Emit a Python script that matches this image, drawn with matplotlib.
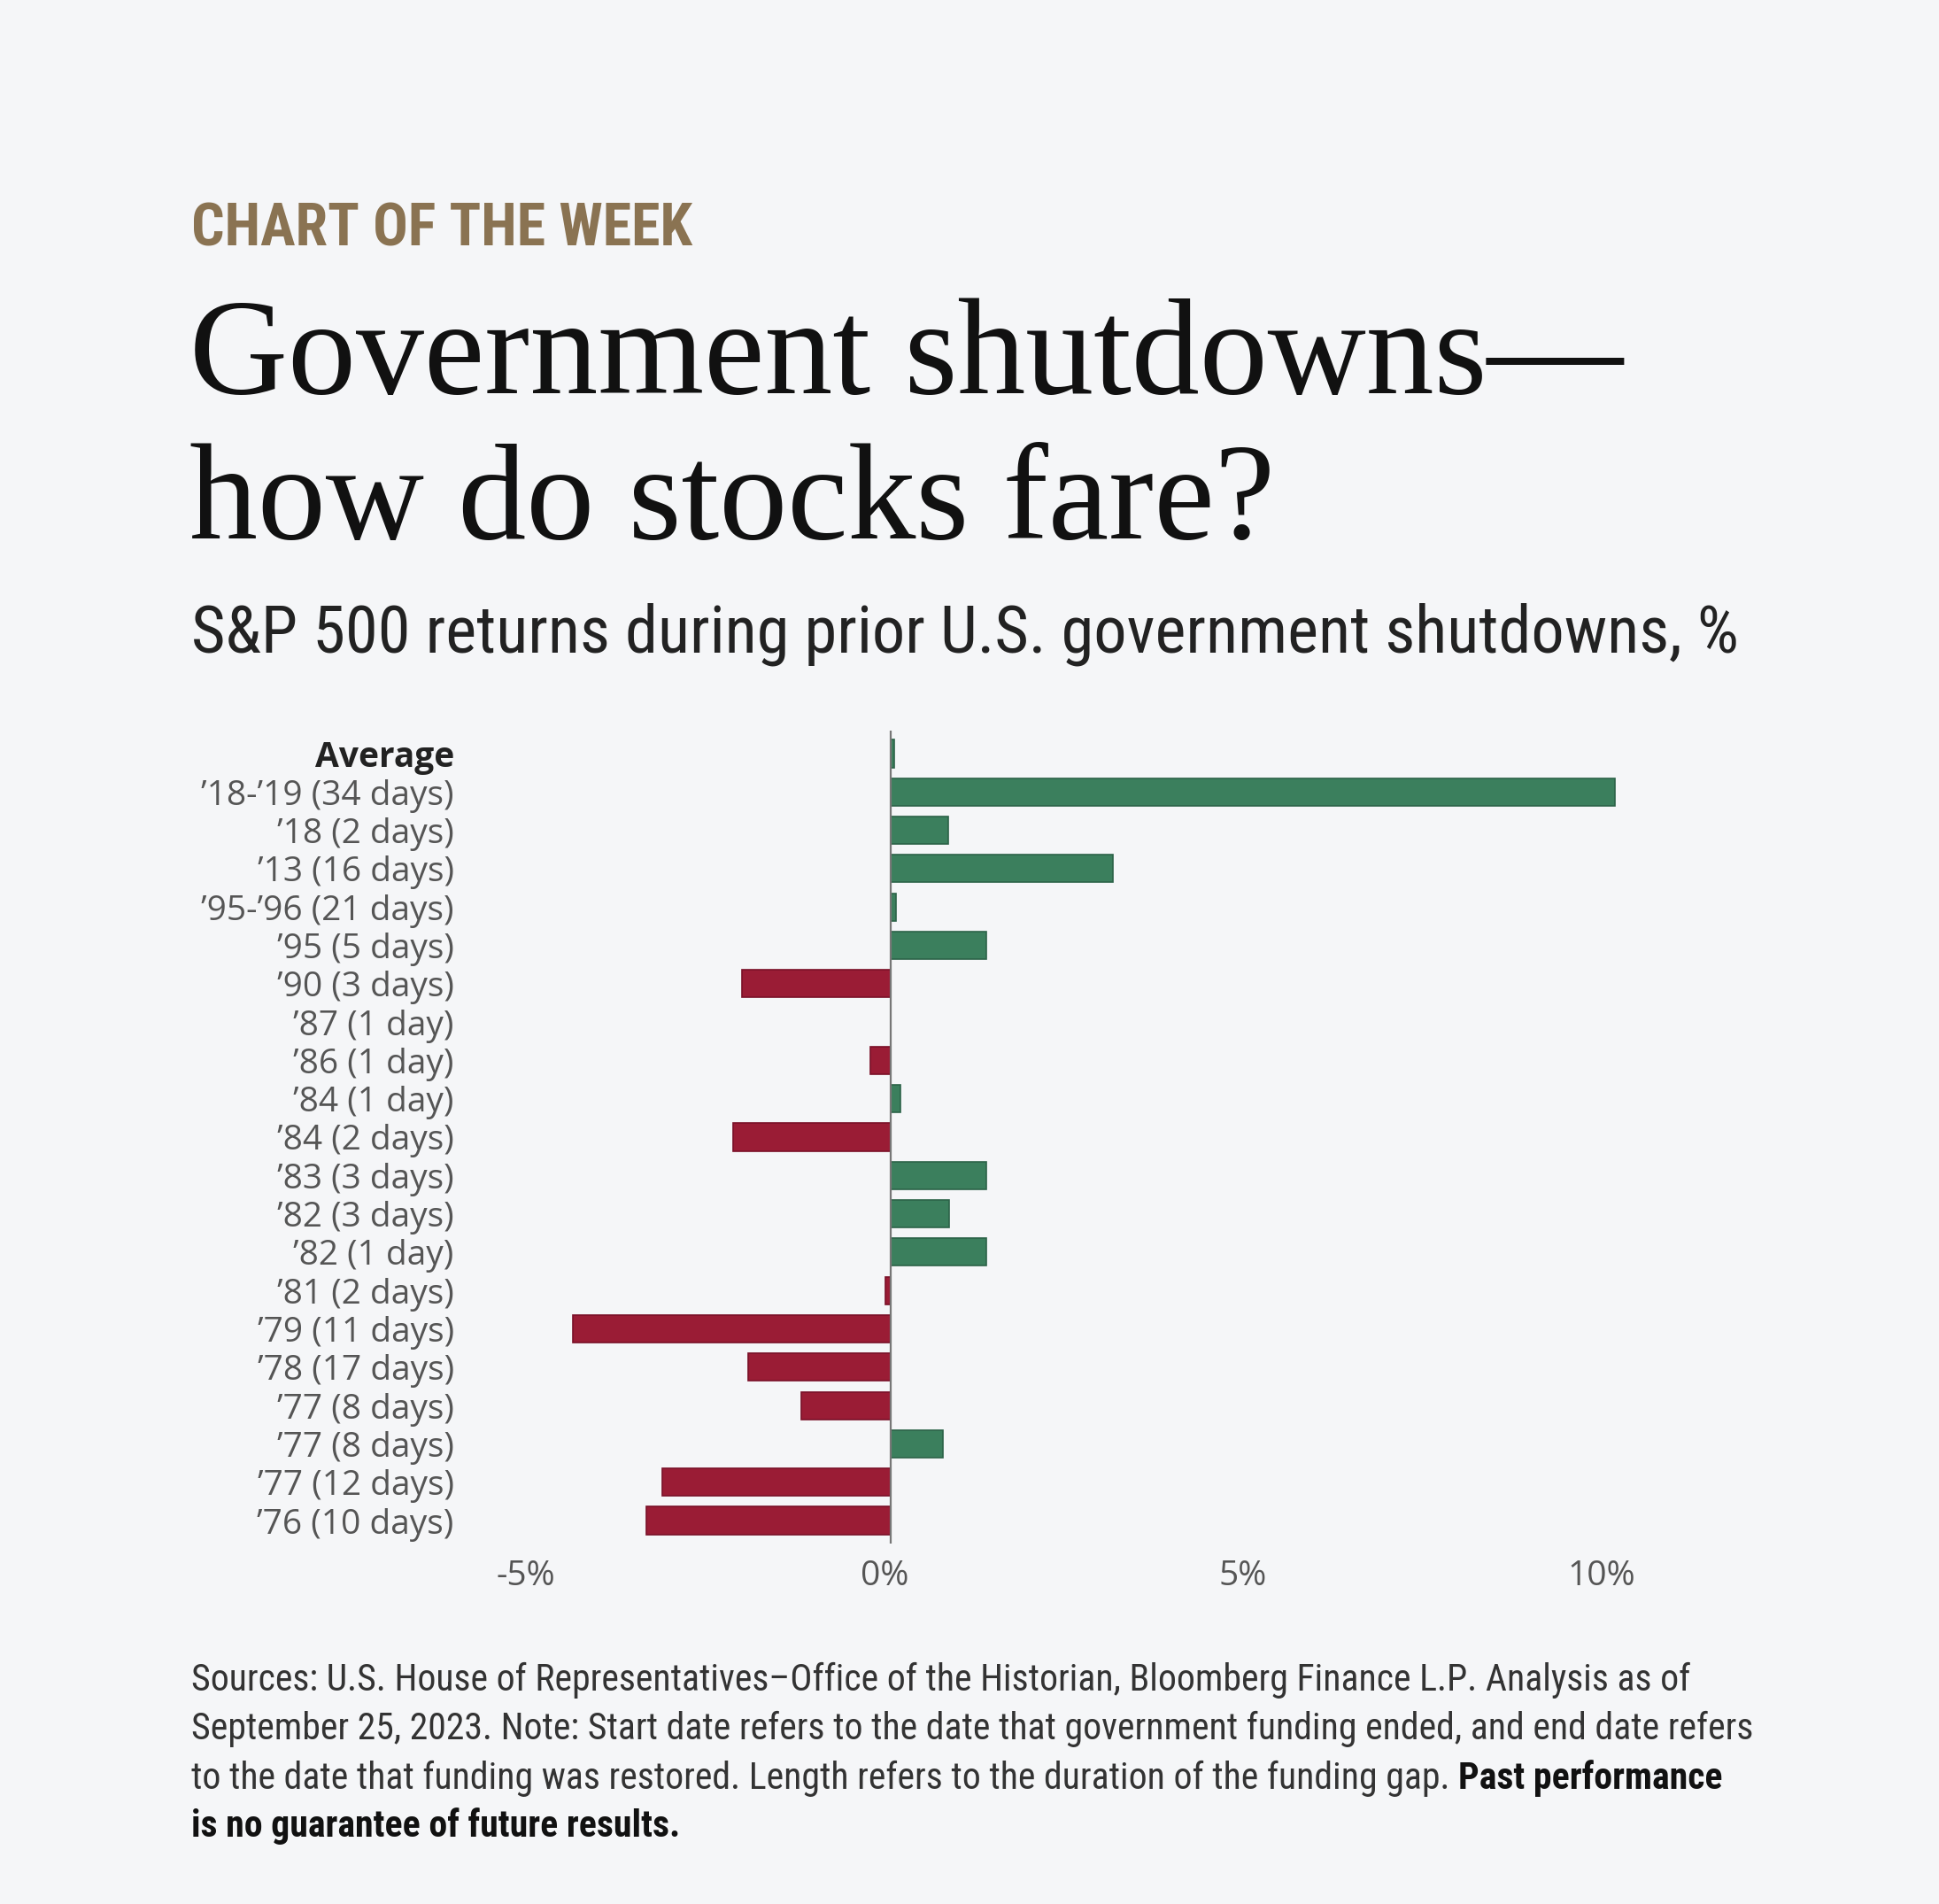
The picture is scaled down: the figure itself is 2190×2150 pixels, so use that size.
import matplotlib
matplotlib.use("Agg")
import matplotlib.pyplot as plt
from matplotlib import font_manager as fm
from matplotlib.transforms import ScaledTranslation

# data
labels = ["Average", "’18-’19 (34 days)", "’18 (2 days)", "’13 (16 days)",
          "’95-’96 (21 days)", "’95 (5 days)", "’90 (3 days)", "’87 (1 day)",
          "’86 (1 day)", "’84 (1 day)", "’84 (2 days)", "’83 (3 days)",
          "’82 (3 days)", "’82 (1 day)", "’81 (2 days)", "’79 (11 days)",
          "’78 (17 days)", "’77 (8 days)", "’77 (8 days)", "’77 (12 days)",
          "’76 (10 days)"]
returns = [0.05, 10.1, 0.8, 3.1, 0.07, 1.33, -2.07, 0.0, -0.28, 0.14, -2.2,
           1.33, 0.82, 1.33, -0.07, -4.43, -1.99, -1.25, 0.73, -3.19, -3.41]
xticks = [-5, 0, 5, 10]
xtick_labels = ["-5%", "0%", "5%", "10%"]

W, H = 2190, 2150
BG = "#f5f6f8"
GREEN = "#3b7f5d"
RED = "#9a1c35"


def pick(cands):
    for c in cands:
        try:
            fm.findfont(fm.FontProperties(family=c), fallback_to_default=False)
            return c
        except ValueError:
            pass
    return "DejaVu Sans"


NARROW = pick(["Roboto Condensed", "Fira Sans Condensed", "PT Sans Narrow",
               "Open Sans Condensed", "Liberation Sans Narrow", "Open Sans"])
SANS = pick(["Open Sans", "Noto Sans", "DejaVu Sans"])
SERIF = pick(["Liberation Serif", "DejaVu Serif"])

fig = plt.figure(figsize=(W / 100, H / 100), dpi=100, facecolor=BG)
r = fig.canvas.get_renderer()


def fx(px):
    return px / W


def fy(py):
    return 1 - py / H


def fit(t, target):
    # scale font so the text spans target pixels
    w = t.get_window_extent(renderer=r).width
    t.set_fontsize(t.get_fontsize() * target / w)
    return t.get_fontsize()


# header
t = fig.text(fx(216), fy(277), "CHART OF THE WEEK", fontsize=40, fontweight="bold",
             color="#8a7352", family=NARROW, va="baseline")
fit(t, 566)
t1 = fig.text(fx(214), fy(444), "Government shutdowns—", fontsize=112,
              family=SERIF, color="#111111", va="baseline")
ts = fit(t1, 1620)
fig.text(fx(214), fy(608), "how do stocks fare?", fontsize=ts,
         family=SERIF, color="#111111", va="baseline")
t = fig.text(fx(216), fy(737), "S&P 500 returns during prior U.S. government shutdowns, %",
             fontsize=54, family=NARROW, color="#222222", va="baseline")
fit(t, 1749)

# bar chart
x0, x1 = -5.3, 10.6
ppu = 81.0
left_px = 1006 + x0 * ppu
right_px = 1006 + x1 * ppu
top_px, bot_px = 825, 1743
ax = fig.add_axes([fx(left_px), fy(bot_px), (right_px - left_px) / W, (bot_px - top_px) / H])
ax.set_facecolor(BG)

ypos = list(range(len(labels)))
colors = [GREEN if v >= 0 else RED for v in returns]
edges = ["#2c6348" if v >= 0 else "#7a1028" for v in returns]
ax.barh(ypos, returns, height=0.72, color=colors, edgecolor=edges, linewidth=1.2, zorder=2)
ax.axvline(0, color="#777777", lw=1.6, zorder=3)

ax.set_xlim(x0, x1)
ax.set_ylim(len(labels) - 0.4, -0.6)
ax.set_yticks(ypos)
ax.set_yticklabels(labels, family=SANS, fontsize=28, color="#555555")
ax.get_yticklabels()[0].set_fontweight("bold")
ax.get_yticklabels()[0].set_color("#222222")
ax.set_xticks(xticks)
ax.set_xticklabels(xtick_labels, family=SANS, fontsize=28, color="#555555")
ax.tick_params(axis="y", length=0, pad=46)
ax.tick_params(axis="x", length=0, pad=13)
shift = ScaledTranslation(-7 / 100, 0, fig.dpi_scale_trans)
for lab in ax.get_xticklabels():
    lab.set_transform(lab.get_transform() + shift)
for s in ax.spines.values():
    s.set_visible(False)

# footnote
note_lines = [
    "Sources: U.S. House of Representatives–Office of the Historian, Bloomberg Finance L.P. Analysis as of",
    "September 25, 2023. Note: Start date refers to the date that government funding ended, and end date refers",
    "to the date that funding was restored. Length refers to the duration of the funding gap. ",
]
baselines = [1909, 1964, 2020, 2074]
probe = fig.text(0, 0, note_lines[1], fontsize=26, family=NARROW)
fs = fit(probe, 1765)
probe.remove()
for line, b in zip(note_lines, baselines):
    t = fig.text(fx(216), fy(b), line, fontsize=fs, family=NARROW, color="#333333", va="baseline")

bb = t.get_window_extent(renderer=r)
fig.text(bb.x1 / W, fy(baselines[2]), "Past performance", fontsize=fs, family=NARROW,
         fontweight="bold", color="#111111", va="baseline")
fig.text(fx(216), fy(baselines[3]), "is no guarantee of future results.", fontsize=fs,
         family=NARROW, fontweight="bold", color="#111111", va="baseline")

fig.savefig("out.png", dpi=100, facecolor=BG)
